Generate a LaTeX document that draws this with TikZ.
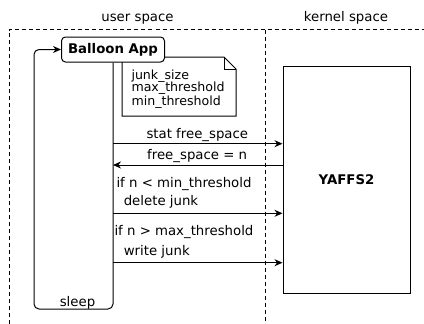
\documentclass[tikz,border=0pt]{standalone}
\usepackage{fontspec}
\setmainfont{DejaVu Sans}
\usetikzlibrary{arrows.meta}
\begin{document}
\begin{tikzpicture}[x=1pt,y=-1pt, line width=1pt,
  font=\fontsize{13.3}{16}\selectfont,
  lbl/.style={anchor=base west, inner sep=0pt},
  notetxt/.style={anchor=base west, inner sep=0pt, font=\fontsize{12.6}{13}\selectfont},
  msg/.style={-{Stealth[length=8pt,width=7pt]}},
  sepline/.style={dash pattern=on 4pt off 3pt, line width=0.8pt}]
\useasboundingbox (0,0) rectangle (424,324);
% titles
\node[anchor=base, inner sep=0pt] (us) at (137.5,21) {user space};
\node[anchor=base, inner sep=0pt] (ks) at (346,21) {kernel space};
% separators
\draw[sepline] (9,324) -- (9,29.5) -- (424,29.5);
\draw[sepline] (265,29.5) -- (265,324);
% note
\draw[fill=white] (122,57) -- (224,57) -- (236,69) -- (236,116) -- (122,116) -- cycle;
\draw (224,57) -- (224,69) -- (236,69);
\node[notetxt] (n1) at (131,79) {junk\_size};
\node[notetxt] (n2) at (131,92) {max\_threshold};
\node[notetxt] (n3) at (131,105) {min\_threshold};
% app box
\node[draw, rounded corners=4pt, fill=white, inner sep=0pt,
      minimum width=103pt, minimum height=25pt,
      font=\fontsize{13.3}{16}\selectfont\bfseries] (app) at (113,49.5) {Balloon App};
% file system
\node[draw, inner sep=0pt, minimum width=127pt, minimum height=227pt,
      font=\fontsize{13.3}{16}\selectfont\bfseries] (fs) at (346.5,180) {YAFFS2};
% lifeline / sleep loop
\draw[rounded corners=5pt, msg] (app.south) -- (113,309) -- (34,309) -- (34,49.5) -- (app.west);
\node[anchor=base, inner sep=0pt] (sl) at (77.5,306) {sleep};
% messages
\coordinate (m1) at (113,143.7);
\coordinate (m2) at (113,165);
\coordinate (m3) at (113,213.3);
\coordinate (m4) at (113,262.7);
\draw[msg] (m1) -- (m1 -| fs.west);
\draw[msg] (m2 -| fs.west) -- (m2);
\draw[msg] (m3) -- (m3 -| fs.west);
\draw[msg] (m4) -- (m4 -| fs.west);
\node[lbl] (t1) at (146,138.3) {stat free\_space};
\node[lbl] (t2) at (146.7,159) {free\_space = n};
\node[lbl] (t3) at (116,187.7) {if n < min\_threshold};
\node[lbl] (t4) at (123.3,205.7) {delete junk};
\node[lbl] (t5) at (114,235.7) {if n > max\_threshold};
\node[lbl] (t6) at (123.3,255) {write junk};
\end{tikzpicture}
\end{document}
